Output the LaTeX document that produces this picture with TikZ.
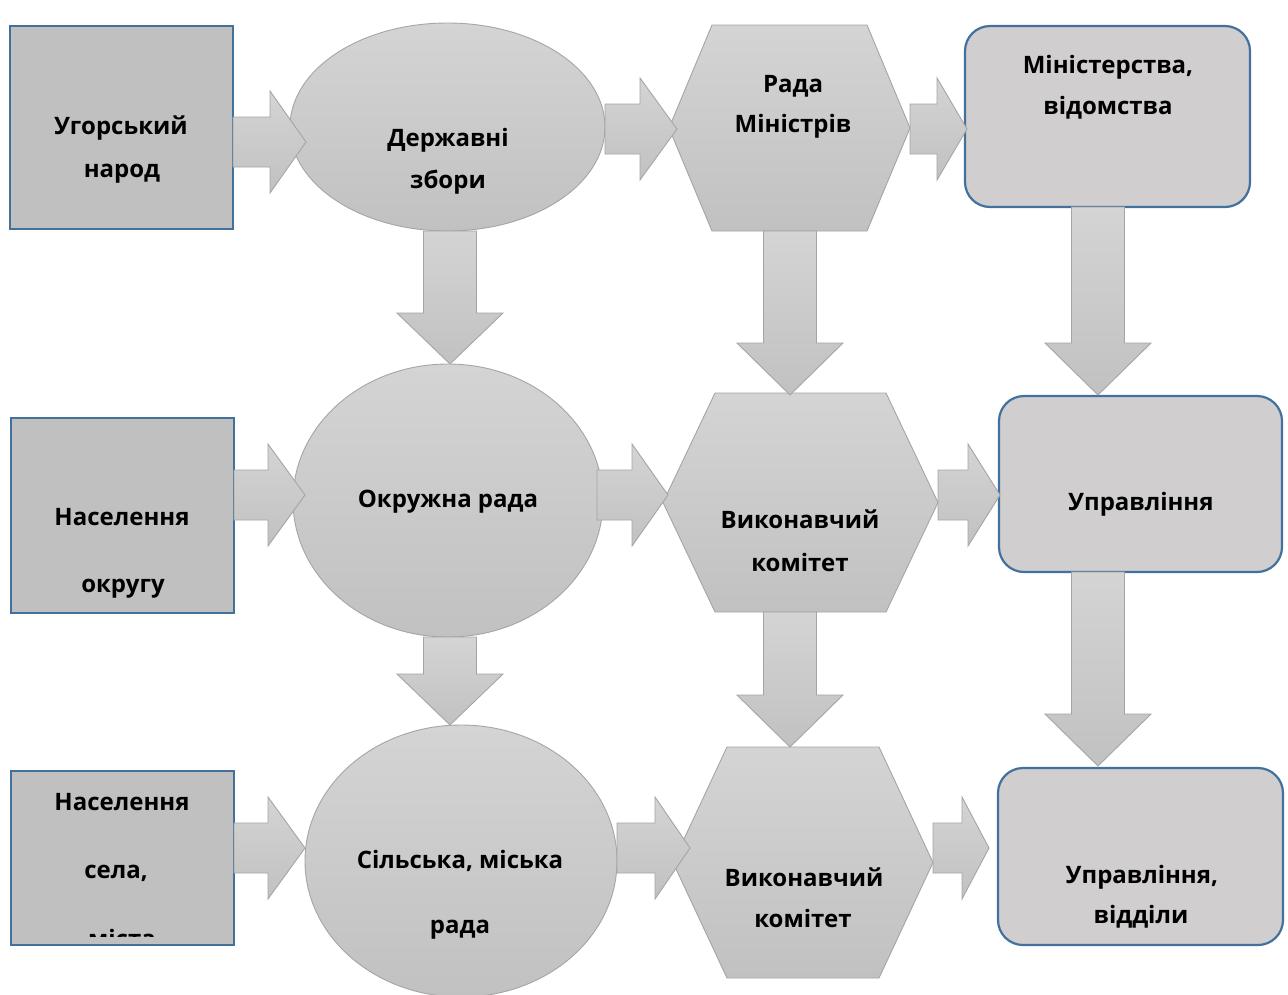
\documentclass[tikz,border=0pt]{standalone}
\usepackage{fontspec}
\setmainfont{Open Sans}
\usetikzlibrary{shapes.geometric,calc}

\definecolor{shadetop}{RGB}{212,212,212}
\definecolor{shadebot}{RGB}{193,193,193}
\definecolor{shadeline}{RGB}{165,165,165}
\definecolor{boxfill}{RGB}{192,192,192}
\definecolor{roundfill}{RGB}{208,206,206}
\definecolor{accentline}{RGB}{65,113,156}

% block arrow pointing right: tail point, tip point, head length (pt)
\newcommand\blockright[3]{%
  \path[arrowfill] let \p1=#1, \p2=#2 in
    (\x1,\y2+25pt) -- (\x2-#3pt,\y2+25pt) -- (\x2-#3pt,\y2+51pt) -- (\x2,\y2)
    -- (\x2-#3pt,\y2-51pt) -- (\x2-#3pt,\y2-25pt) -- (\x1,\y2-25pt) -- cycle;}
% block arrow pointing down: tail point, tip point, head length (pt)
\newcommand\blockdown[3]{%
  \path[arrowfill] let \p1=#1, \p2=#2 in
    (\x2-26.5pt,\y1) -- (\x2-26.5pt,\y2+#3pt) -- (\x2-53pt,\y2+#3pt) -- (\x2,\y2)
    -- (\x2+53pt,\y2+#3pt) -- (\x2+26.5pt,\y2+#3pt) -- (\x2+26.5pt,\y1) -- cycle;}
% hexagon drawn over the frame of a named node: node name, corner inset (pt)
\newcommand\hexshape[2]{%
  \path[shapefill] (#1.west) -- ($(#1.north west)+(#2,0)$) -- ($(#1.north east)+(-#2,0)$)
    -- (#1.east) -- ($(#1.south east)+(-#2,0)$) -- ($(#1.south west)+(#2,0)$) -- cycle;}

\begin{document}
\begin{tikzpicture}[x=1pt,y=-1pt,
  shapefill/.style={top color=shadetop,bottom color=shadebot,draw=shadeline,line width=0.9pt},
  arrowfill/.style={top color=shadetop,bottom color=shadebot,draw=shadeline,line width=0.9pt},
  leftbox/.style={rectangle,fill=boxfill,draw=accentline,line width=2pt,inner sep=0pt,outer sep=0pt},
  roundbox/.style={rectangle,rounded corners=25pt,fill=roundfill,draw=accentline,line width=2.2pt,inner sep=0pt,outer sep=0pt},
  oval/.style={ellipse,shapefill,inner sep=0pt,outer sep=0pt},
  frame/.style={rectangle,inner sep=0pt,outer sep=0pt},
  lbl/.style={anchor=base,inner sep=0pt,font=\bfseries\fontsize{24}{28}\selectfont}]
\useasboundingbox (0,0) rectangle (1288,994);

% ---- row 1 ----
\node[leftbox,minimum width=223pt,minimum height=203pt] (A1) at (121.5,127.5) {};
\node[oval,minimum width=315pt,minimum height=208pt] (E1) at (447.5,127) {};
\node[frame,minimum width=241pt,minimum height=206pt] (H1) at (789.5,128) {};
\hexshape{H1}{43}
\node[roundbox,minimum width=285pt,minimum height=181pt] (R1) at (1107.5,116.5) {};

% ---- row 2 ----
\node[leftbox,minimum width=223pt,minimum height=195pt] (A2) at (122.5,515.5) {};
\node[oval,minimum width=310pt,minimum height=273pt] (E2) at (448,500.5) {};
\node[frame,minimum width=275pt,minimum height=219pt] (H2) at (800.5,502.5) {};
\hexshape{H2}{52}
\node[roundbox,minimum width=283pt,minimum height=176pt] (R2) at (1140.5,484) {};

% ---- row 3 ----
\node[leftbox,minimum width=223pt,minimum height=174pt] (A3) at (122.5,858) {};
\node[oval,minimum width=312pt,minimum height=272pt] (E3) at (461,861) {};
\node[frame,minimum width=260pt,minimum height=231pt] (H3) at (803,862.5) {};
\hexshape{H3}{54}
\node[roundbox,minimum width=285pt,minimum height=177pt] (R3) at (1140.5,856.5) {};

% ---- horizontal arrows ----
\blockright{(A1.east)}{($(E1.west)+(16,15)$)}{36}
\blockright{(E1.east)}{($(H1.west)+(8,1)$)}{37}
\blockright{(H1.east)}{($(R1.west)+(2,12.5)$)}{30}
\blockright{(A2.east)}{($(E2.west)+(12,-5.5)$)}{37}
\blockright{($(E2.east)+(-6,0)$)}{($(H2.west)+(5,-7.5)$)}{36}
\blockright{(H2.east)}{($(R2.west)+(1,11)$)}{32}
\blockright{(A3.east)}{($(E3.west)+(0,-13)$)}{37}
\blockright{(E3.east)}{($(H3.west)+(17,-14.5)$)}{35}
\blockright{(H3.east)}{($(R3.west)+(-9,-8.5)$)}{27}

% ---- vertical arrows ----
\blockdown{(E1.south)}{($(E2.north)+(2,0)$)}{51}
\blockdown{(H1.south)}{($(H1.south |- H2.north)+(0.5,2)$)}{52}
\blockdown{(R1.south)}{($(R2.north west)+(99,-1)$)}{52}
\blockdown{(E2.south)}{($(E3.north)+(-11,0)$)}{51}
\blockdown{(H2.south)}{($(H2.south |- H3.north)+(-10.5,0)$)}{52}
\blockdown{(R2.south)}{($(R3.north west)+(100,-2)$)}{52}

% ---- labels ----
\node[lbl] (tA1a) at (121,134) {Угорський};
\node[lbl] (tA1b) at (122,177) {народ};
\node[lbl] (tE1a) at (448,146) {Державні};
\node[lbl] (tE1b) at (448,188) {збори};
\node[lbl] (tH1a) at (793,92) {Рада};
\node[lbl] (tH1b) at (793,132) {Міністрів};
\node[lbl] (tR1a) at (1108,73) {Міністерства,};
\node[lbl] (tR1b) at (1108,114) {відомства};

\node[lbl] (tA2a) at (122,525) {Населення};
\node[lbl] (tA2b) at (123,592) {округу};
\node[lbl] (tE2) at (448,507) {Окружна рада};
\node[lbl] (tH2a) at (800,528) {Виконавчий};
\node[lbl] (tH2b) at (800,571) {комітет};
\node[lbl] (tR2) at (1141,510) {Управління};

\node[lbl] (tA3a) at (122,810) {Населення};
\node[lbl] (tA3b) at (116,878) {села,};
\begin{scope}
  \clip (A3.north west) rectangle ($(A3.south east)+(0,-9)$);
  \node[lbl] (tA3c) at (122,947) {міста};
\end{scope}
\node[lbl] (tE3a) at (460,868) {Сільська, міська};
\node[lbl] (tE3b) at (460,933) {рада};
\node[lbl] (tH3a) at (804,886) {Виконавчий};
\node[lbl] (tH3b) at (803,927) {комітет};
\node[lbl] (tR3a) at (1142,883) {Управління,};
\node[lbl] (tR3b) at (1141,923) {відділи};
\end{tikzpicture}
\end{document}
